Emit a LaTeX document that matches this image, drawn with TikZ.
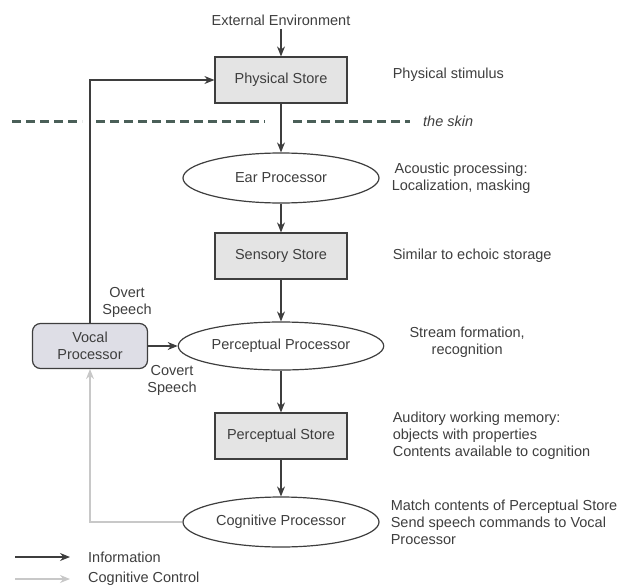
\documentclass[tikz,border=0pt]{standalone}
\usepackage{fontspec}
\setmainfont{Liberation Sans}
\usetikzlibrary{arrows.meta,shapes.geometric,positioning}
\definecolor{ink}{HTML}{3E3E3E}
\definecolor{ctrl}{HTML}{C8C8C8}
\definecolor{skincol}{HTML}{4A5F58}
\definecolor{storefill}{HTML}{E4E4E4}
\definecolor{vocalfill}{HTML}{DEDEE6}
\newcommand{\diagfont}{\fontsize{14.5pt}{17pt}\selectfont}
\tikzset{
    store/.style={
           rectangle,
           draw=ink,
           fill=storefill,
           line width=1.2pt,
           minimum width=132pt,
           minimum height=46pt,
           text centered,
           },
    proc/.style={
           ellipse,
           draw=ink,
           line width=1.2pt,
           minimum width=196pt,
           minimum height=50pt,
           },
    vocal/.style={
           rectangle,
           rounded corners=8pt,
           draw=ink,
           fill=vocalfill,
           line width=1.2pt,
           minimum width=115pt,
           minimum height=45pt,
           align=center,
           },
    note/.style={
           inner sep=0pt,
           align=left,
           },
    info/.style={->, draw=ink, line width=1.2pt},
    control/.style={->, draw=ctrl, line width=1.2pt},
    skin/.style={draw=skincol, line width=3pt, dash pattern=on 9pt off 5pt},
}

\begin{document}
\begin{tikzpicture}[x=1pt,y=1pt,>={Stealth[length=10pt,width=8pt]},
  every node/.style={text=ink,font=\diagfont}]

 \useasboundingbox (0,0) rectangle (620,-586);

 % main column
 \node[store] (PHYS) at (281,-80) {Physical Store};
 \node[above of=PHYS, node distance=60pt] (EXT) {External Environment};
 \node[proc, below of=PHYS, node distance=98pt] (EAR) {Ear Processor};
 \node[store, below of=EAR, node distance=78pt] (SENS) {Sensory Store};
 \node[proc, below of=SENS, node distance=90pt, minimum height=48pt] (PERC)
   {Perceptual Processor};
 \node[store, below of=PERC, node distance=90pt] (PSTORE) {Perceptual Store};
 \node[proc, below of=PSTORE, node distance=86pt] (COG) {Cognitive Processor};

 \node[vocal, left of=PERC, node distance=191pt] (VOCAL) {Vocal\\Processor};

 % notes on the right
 \node[note, right=45pt of PHYS, yshift=5pt] (STIM) {Physical stimulus};
 \node[note, right=12pt of EAR, align=center] (ACOU)
   {Acoustic processing:\\Localization, masking};
 \node[note, right=45pt of SENS] (ECHO) {Similar to echoic storage};
 \node[note, right=25pt of PERC, align=center, yshift=4pt] (STREAM)
   {Stream formation,\\recognition};
 \node[note, right=45pt of PSTORE] (AWM)
   {Auditory working memory:\\objects with properties\\Contents available to cognition};
 \node[note, right=11pt of COG] (MATCH)
   {Match contents of Perceptual Store\\Send speech commands to Vocal\\Processor};

 % the skin
 \draw[skin] (12,-121) -- (82,-121);
 \draw[skin] (96,-121) -- (265,-121);
 \draw[skin] (293,-121) -- (410,-121);
 \node[note, anchor=west, font=\diagfont\itshape] (SKIN) at (423,-121) {the skin};

 % speech labels
 \node[align=center, inner sep=0pt] (OVERT) at (127,-302) {Overt\\Speech};
 \node[align=center, inner sep=0pt] (COVERT) at (172,-380) {Covert\\Speech};

 % legend
 \coordinate (INFa) at (15,-557);
 \coordinate (INFb) at (70,-557);
 \coordinate (CTLa) at (15,-579);
 \coordinate (CTLb) at (70,-579);
 \node[note, anchor=west] (INFO) at (88,-557) {Information};
 \node[note, anchor=west] (CTL) at (88,-579) {Cognitive Control};

 \draw[info] (EXT) -- (PHYS);
 \draw[info] (PHYS) -- (EAR);
 \draw[info] (EAR) -- (SENS);
 \draw[info] (SENS) -- (PERC);
 \draw[info] (PERC) -- (PSTORE);
 \draw[info] (PSTORE) -- (COG);
 \draw[info] (VOCAL) -- (PERC);
 \draw[info] (VOCAL.north) |- (PHYS.west);
 \draw[control] (COG.west) -| (VOCAL.south);
 \draw[info] (INFa) -- (INFb);
 \draw[control] (CTLa) -- (CTLb);
\end{tikzpicture}
\end{document}
